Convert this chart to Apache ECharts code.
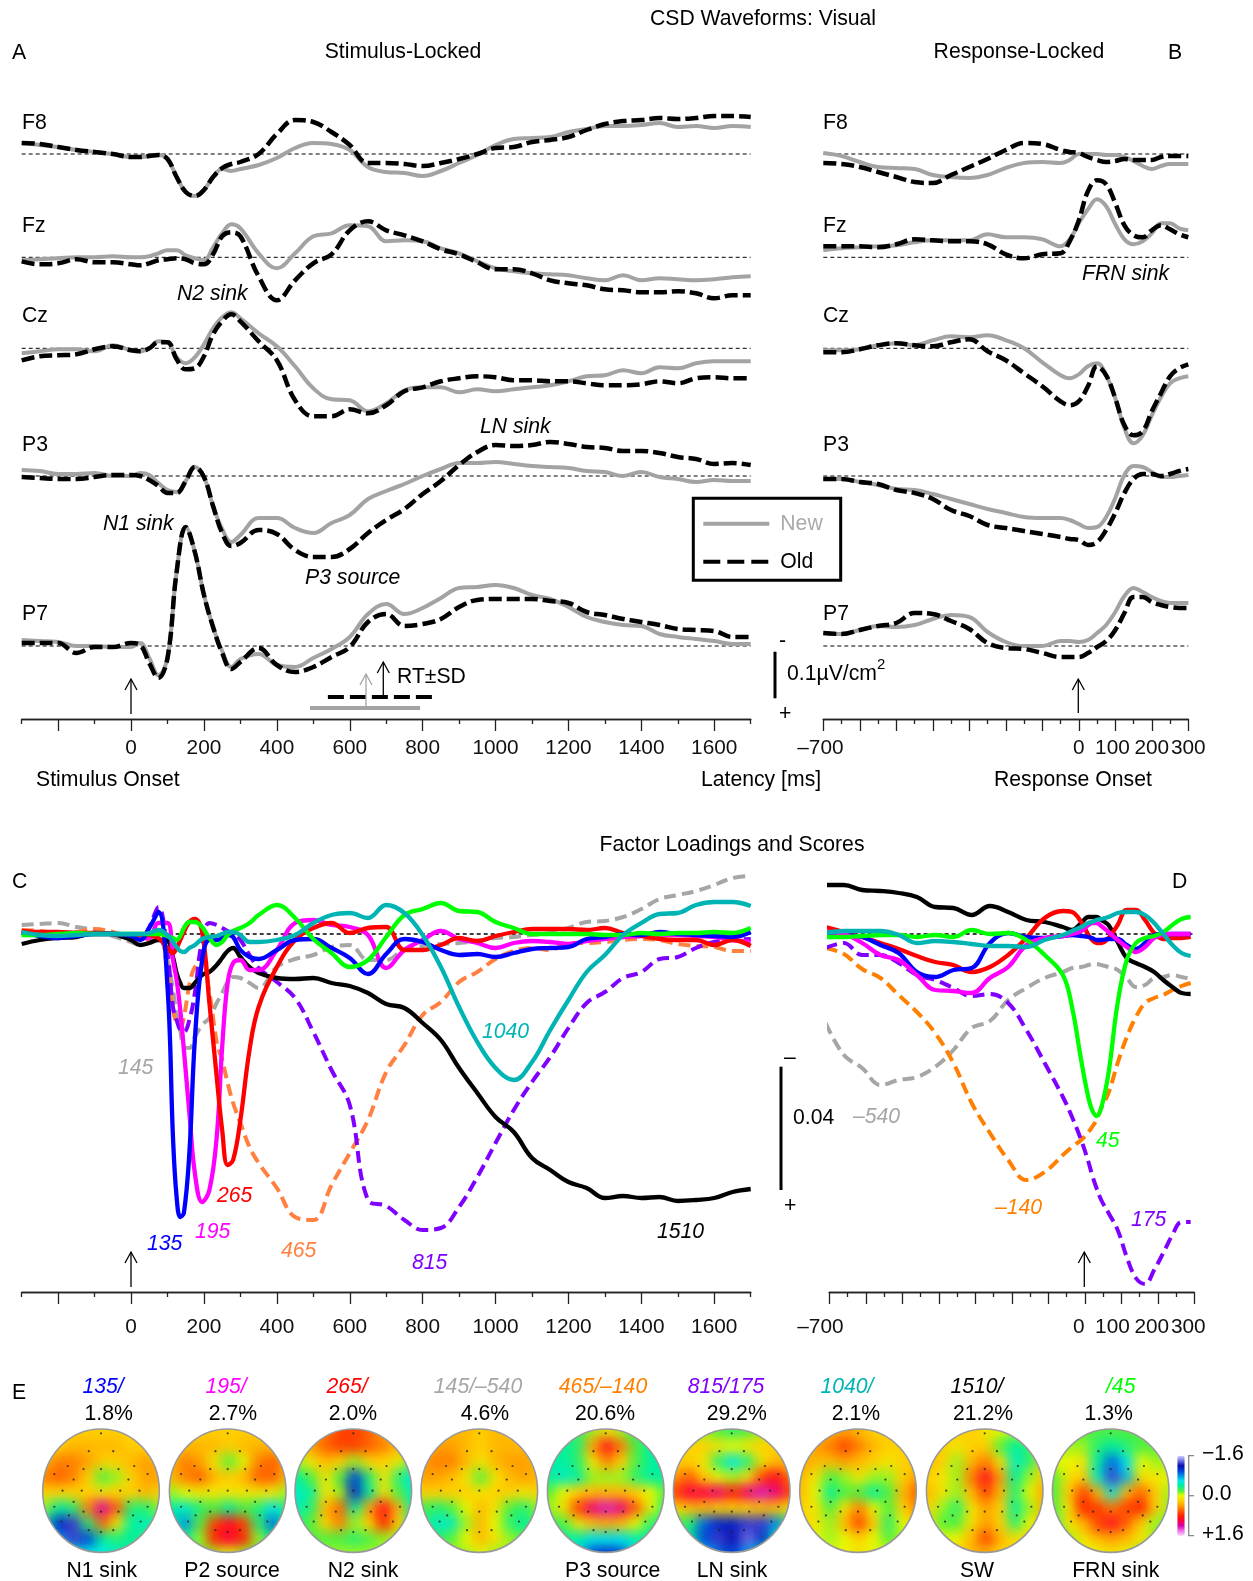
<!DOCTYPE html>
<html><head><meta charset="utf-8">
<style>html,body{margin:0;padding:0;background:#fff}#c{width:1253px;height:1581px}</style>
<script src="https://cdn.jsdelivr.net/npm/echarts@6/dist/echarts.min.js"></script>
</head><body><div id="c"></div>
<script>
// ---------- latency samples (ms) ----------
const latStim=[-300,-250,-200,-150,-100,-50,0,25,50,75,100,125,150,175,200,225,250,275,300,350,400,450,500,550,600,650,700,750,800,850,900,950,1000,1050,1100,1150,1200,1250,1300,1350,1400,1450,1500,1550,1600,1650,1700];
const latResp=[-700,-650,-600,-550,-500,-450,-400,-350,-300,-250,-200,-150,-100,-50,-25,0,25,50,75,100,125,150,175,200,225,250,275,300];
const latC=[-300,-250,-200,-150,-100,-50,0,25,50,75,100,115,125,135,145,160,175,195,215,235,250,265,280,300,325,350,400,450,500,550,600,650,700,750,800,850,900,950,1000,1050,1100,1150,1200,1250,1300,1350,1400,1450,1500,1550,1600,1650,1700];
const latD=[-710,-660,-610,-560,-510,-460,-410,-360,-310,-260,-210,-160,-110,-60,-35,-10,10,20,32,45,65,90,115,140,165,190,215,240,265,290];
// ---------- stimulus-locked CSD (1 unit = 1/47 of 0.1 uV/cm2, up = negative polarity) ----------
const sF8New=[11,9,7,4,2,0,-3,-3,-2,-1,-5,-23,-38,-42,-36,-23,-15,-17,-15,-11,-4,6,11,10,4,-13,-18,-19,-22,-17,-9,-1,9,15,16,17,22,25,28,28,29,31,27,28,26,28,27];
const sF8Old=[11,10,7,4,2,0,-3,-3,-2,-1,-5,-23,-38,-42,-36,-23,-14,-10,-8,0,20,34,32,22,9,-9,-9,-10,-12,-9,-5,0,6,7,12,14,17,24,30,33,34,36,35,36,38,38,37];
const sFzNew=[-3,-2,-1,0,0,1,0,0,1,4,7,7,2,-1,-3,10,24,33,29,4,-11,4,21,24,32,31,16,17,16,9,4,-4,-11,-14,-16,-17,-18,-21,-23,-18,-23,-21,-22,-23,-22,-20,-19];
const sFzOld=[-4,-7,-6,-2,-5,-5,-7,-8,-6,-3,-2,-1,-2,-6,-7,3,21,25,21,-19,-43,-23,-6,3,27,36,27,22,16,8,3,-5,-12,-12,-16,-23,-26,-28,-32,-33,-35,-35,-34,-36,-41,-38,-38];
const sCzNew=[-5,-3,-1,-1,-3,3,-2,-3,0,7,6,-9,-15,-9,4,20,31,36,30,15,2,-18,-40,-51,-52,-63,-55,-42,-39,-39,-44,-41,-43,-41,-39,-37,-33,-28,-27,-22,-25,-19,-20,-15,-13,-13,-13];
const sCzOld=[-12,-8,-7,-6,-1,2,-2,-3,0,6,6,-11,-21,-20,-8,14,27,34,27,7,-12,-52,-68,-68,-61,-65,-57,-43,-39,-33,-30,-28,-29,-32,-32,-33,-33,-35,-37,-37,-36,-33,-35,-30,-29,-30,-30];
const sP3New=[6,5,2,2,3,0,0,3,1,-7,-14,-16,-5,9,-1,-30,-53,-66,-59,-42,-42,-52,-57,-47,-39,-23,-15,-8,0,7,13,13,14,12,10,9,8,5,4,0,4,-1,-3,-6,-4,-5,-5];
const sP3Old=[-1,-2,-3,-3,-1,1,1,0,-4,-10,-17,-17,-5,9,-1,-30,-57,-70,-67,-54,-58,-74,-81,-81,-73,-57,-44,-33,-18,-5,11,24,31,30,31,34,32,29,28,25,25,23,19,17,12,13,11];
const sP7New=[6,5,4,0,0,-1,-1,3,-12,-29,-12,74,119,94,51,19,-5,-21,-13,-8,-19,-21,-12,-3,9,32,42,32,38,48,58,59,61,58,51,47,39,29,24,21,20,12,9,7,5,2,2];
const sP7Old=[3,3,3,-7,-1,-1,3,1,-17,-32,-12,74,119,94,51,19,-7,-23,-16,-2,-19,-26,-21,-11,-1,24,32,20,22,27,39,46,47,47,47,45,43,34,31,27,24,21,17,16,15,9,9];
// ---------- response-locked CSD ----------
const rF8New=[1,-2,-8,-13,-14,-15,-21,-23,-24,-21,-14,-9,-8,-9,-6,0,0,0,-1,-1,-3,-7,-12,-15,-12,-10,-10,-10];
const rF8Old=[-9,-10,-13,-18,-23,-28,-29,-21,-13,-5,4,11,10,4,2,1,-3,-6,-8,-7,-5,-6,-6,-6,-3,-2,-2,-2];
const rFzNew=[7,9,10,11,12,15,17,17,17,23,20,20,18,11,18,34,48,58,51,33,18,13,16,24,34,34,29,27];
const rFzOld=[11,11,11,10,13,18,17,16,16,13,3,-1,3,4,16,37,66,77,73,54,32,22,20,27,32,28,23,20];
const rCzNew=[-2,-2,-1,3,5,3,8,12,11,13,8,0,-14,-27,-30,-26,-18,-15,-27,-50,-80,-95,-87,-67,-49,-35,-30,-28];
const rCzOld=[-4,-4,-1,3,5,3,2,6,9,-3,-12,-25,-38,-53,-57,-53,-38,-18,-27,-50,-77,-87,-83,-63,-45,-28,-20,-16];
const rP3New=[-3,-3,-6,-9,-13,-14,-18,-23,-28,-33,-37,-41,-42,-42,-44,-48,-52,-51,-41,-22,1,10,9,4,-1,-1,0,1];
const rP3Old=[-3,-3,-6,-8,-14,-17,-23,-34,-40,-49,-52,-55,-58,-61,-63,-64,-69,-66,-54,-37,-17,-3,2,2,0,2,5,7];
const rP7New=[13,12,16,20,19,21,27,31,29,14,4,0,0,5,5,4,6,13,21,34,50,58,54,49,45,43,43,43];
const rP7Old=[13,12,16,20,23,33,32,25,17,3,-2,-3,-7,-11,-11,-11,-7,-1,5,16,33,49,49,44,41,39,38,38];
// ---------- factor loadings C (stimulus-locked) ----------
const cBlue=[1,-2,-4,-2,0,0,-2,-6,6,22,-53,-203,-263,-283,-279,-219,-106,-26,-6,-6,-4,-1,-3,-16,-23,-25,-16,-6,-5,-14,-24,-40,-20,-5,-8,-16,-21,-20,-23,-19,-15,-14,-13,-5,-3,0,-1,2,0,-1,-2,-3,2];
const cMagenta=[2,1,1,1,0,0,-1,-4,-4,11,11,-26,-46,-76,-116,-179,-239,-268,-256,-203,-113,-49,-29,-26,-36,-36,-16,11,14,9,7,-1,-34,-16,-6,3,-5,-9,-14,-9,-7,-8,-10,-7,-5,-3,-2,-1,-1,-2,-3,-6,-8];
const cRed=[3,2,2,1,1,0,-1,-1,-1,-4,-14,-19,-14,-6,2,12,15,2,-69,-143,-196,-231,-226,-186,-116,-73,-33,-6,6,11,1,6,7,-16,-16,-11,-4,-7,-2,2,5,5,5,4,6,1,-2,-5,-6,-6,-11,-6,-12];
const cGray=[9,10,11,7,4,-2,-8,-11,-9,-5,-26,-56,-79,-96,-113,-114,-103,-91,-84,-69,-59,-48,-43,-44,-49,-54,-33,-25,-21,-13,-11,-26,-26,-15,-12,-10,-9,-7,-4,-3,-1,1,6,12,13,17,25,35,39,43,49,56,58];
const cOrange=[4,3,1,2,5,2,-4,-6,-5,-1,-36,-76,-89,-93,-83,-51,-33,-29,-59,-108,-126,-149,-169,-189,-213,-229,-254,-283,-286,-251,-219,-186,-138,-111,-81,-68,-48,-38,-25,-17,-14,-16,-9,-9,-8,-6,-5,-6,-10,-12,-13,-17,-17];
const cPurple=[1,1,1,0,0,0,-1,-4,7,27,-19,-73,-86,-96,-98,-86,-59,-6,11,9,6,3,0,-6,-21,-34,-48,-64,-98,-136,-171,-266,-272,-286,-296,-294,-273,-243,-209,-176,-148,-123,-94,-69,-58,-44,-38,-25,-23,-14,-8,-6,-5];
const cBlack=[-10,-6,-4,-3,1,0,-6,-11,-9,-6,-7,-23,-39,-49,-54,-54,-49,-41,-38,-31,-24,-17,-14,-23,-33,-39,-44,-45,-44,-49,-52,-59,-70,-74,-89,-106,-134,-159,-183,-198,-224,-236,-248,-254,-264,-262,-264,-263,-267,-266,-264,-258,-255];
const cGreen=[-1,-1,0,1,0,0,0,0,0,0,-2,-4,-6,-2,6,12,12,7,-4,-11,-8,-1,3,6,11,19,29,16,-5,-19,-33,-26,-3,19,25,31,23,22,12,6,0,0,0,0,-1,-1,1,0,1,1,2,1,6];
const cCyan=[2,-1,-2,-1,0,0,0,0,1,4,-1,-8,-13,-17,-18,-14,-11,-5,-3,-2,0,2,2,-1,-8,-8,-6,-1,11,19,21,16,29,21,-1,-33,-73,-108,-134,-146,-128,-96,-66,-38,-21,-1,11,20,21,29,32,32,28];
// ---------- factor loadings D (response-locked) ----------
const dBlack=[49,49,44,43,41,37,27,26,19,28,22,14,12,7,4,11,17,17,17,14,9,-8,-24,-29,-33,-38,-46,-53,-59,-60];
const dRed=[7,2,-3,-9,-15,-22,-28,-31,-38,-33,-21,-4,16,23,22,12,-1,-6,-9,-9,-4,9,24,24,14,1,-5,-4,-4,-3];
const dBlue=[0,-1,-3,-11,-19,-38,-43,-36,-34,-9,1,-3,-4,-2,-1,-2,-3,-4,-6,-6,-5,-5,-11,-15,-9,-1,0,0,0,0];
const dMagenta=[2,0,-9,-21,-26,-41,-56,-57,-59,-44,-33,-11,-4,-2,0,3,9,11,11,8,2,-6,-13,-18,-13,-4,-1,0,0,0];
const dGreen=[-3,-3,-2,-1,-1,-3,-1,-3,4,0,1,-6,-21,-41,-73,-126,-164,-176,-182,-174,-139,-69,-26,-9,-4,-2,2,9,15,17];
const dCyan=[1,3,3,3,-1,-9,-7,-8,-10,-12,-12,-13,-6,-1,3,7,11,12,14,15,17,21,22,22,19,11,0,-11,-19,-22];
const dGray=[-89,-121,-134,-151,-146,-143,-133,-116,-94,-87,-66,-54,-44,-38,-34,-33,-31,-30,-30,-31,-33,-36,-44,-53,-51,-44,-43,-41,-43,-45];
const dOrange=[-14,-20,-35,-44,-61,-78,-99,-129,-169,-199,-226,-246,-238,-221,-213,-206,-198,-193,-186,-174,-159,-129,-103,-83,-69,-64,-61,-56,-52,-49];
const dPurple=[-14,-9,-21,-21,-29,-41,-46,-54,-62,-60,-69,-96,-129,-163,-183,-206,-228,-241,-254,-266,-279,-296,-323,-344,-350,-336,-319,-301,-288,-288];
// ---------- RT +/- SD ----------
const rtOld=[540,834], rtNew=[491,793];
// ---------- scalp maps E: 9 x 9 samples, top row first ----------
const topoN1=[[.2,.2,.2,.2,.2,.2,.2,.2,.2],[.1,.2,.3,.3,.3,.3,.2,.2,.1],[.3,.5,.5,.4,.2,.2,.3,.4,.3],[.5,.6,.5,.2,-.2,-.1,.2,.4,.4],[.2,.2,.2,.2,.1,.2,.2,.3,.2],[-.1,-.4,-.3,.5,1.2,.6,-.3,-.3,-.1],[-.5,-1.1,-1.3,-.3,.6,.1,-.4,-.5,-.3],[-.5,-.8,-1.3,-1,-.4,-.3,-.4,-.3,-.3],[-.5,-.5,-.5,-.6,-.6,-.5,-.4,-.3,-.3]];
const topoP2=[[.2,.2,.2,.2,.2,.2,.2,.2,.2],[.2,.3,.3,.3,.2,.3,.3,.3,.2],[.3,.5,.4,.1,-.2,0,.5,.6,.4],[.3,.5,.6,.3,.2,.3,.6,.6,.3],[-.1,0,.1,.1,.1,.1,.1,.1,-.1],[-.4,-.5,-.3,-.2,-.4,-.2,-.3,-.6,-.3],[-.4,-.8,-.2,.7,.9,.7,-.3,-.9,-.4],[-.3,-.4,-.1,.8,1,.8,-.1,-.4,-.3],[-.2,-.2,-.2,-.1,0,-.1,-.2,-.2,-.2]];
const topoN2=[[.4,.4,.5,.7,.7,.6,.4,.3,.2],[.2,.4,.6,.7,.7,.6,.5,.3,.1],[-.1,.1,.3,.2,-.1,.2,.2,.1,-.2],[-.4,-.2,.1,-.2,-1,-.3,.1,-.3,-.6],[-.5,-.4,.1,-.1,-1.1,-.4,.1,-.2,-.5],[-.5,-.3,.3,.6,-.4,.4,.9,.3,-.4],[-.3,-.2,.2,.5,-.1,.2,.8,.2,-.3],[-.2,-.2,-.2,-.2,-.3,-.2,-.1,-.1,-.2],[-.2,-.2,-.1,-.1,-.1,-.1,-.1,-.2,-.2]];
const topo145=[[.2,.3,.3,.3,.2,.3,.3,.3,.2],[.3,.4,.4,.3,.2,.3,.3,.3,.3],[.4,.5,.5,.3,.1,.3,.4,.4,.3],[.4,.4,.3,.1,-.2,.1,.3,.4,.3],[.2,.2,.2,.2,.1,.2,.2,.1,.2],[-.2,-.3,-.2,0,.3,.1,-.2,-.3,-.1],[-.3,-.5,-.5,-.1,.3,0,-.3,-.4,-.2],[-.3,-.3,-.2,0,.3,.1,-.1,-.2,-.2],[-.2,-.2,-.1,-.1,0,-.1,-.1,-.2,-.2]];
const topoP3=[[-.3,-.3,-.3,-.1,.1,-.1,-.3,-.3,-.3],[-.4,-.4,-.3,.4,.9,.5,-.2,-.4,-.4],[-.4,-.4,-.3,.1,.5,.2,-.2,-.4,-.4],[-.4,-.5,-.4,-.1,-.1,-.1,-.3,-.4,-.4],[-.2,0,.2,.3,.3,.3,.2,0,-.2],[-.1,.1,.7,1.1,1.25,1.1,.6,0,-.3],[-.3,-.2,.1,.3,.4,.3,0,-.3,-.3],[-.4,-.4,-.4,-.6,-.6,-.6,-.4,-.4,-.4],[-.4,-.5,-.6,-1,-1.1,-1,-.6,-.5,-.4]];
const topoLN=[[0,-.1,-.1,-.2,-.3,-.2,-.1,0,0],[.1,.2,.2,.1,0,.1,.2,.2,.1],[.2,.2,.1,-.3,-.6,-.3,.1,.3,.3],[.4,.6,.2,0,-.1,.1,.7,.9,.5],[.7,1,1,1.1,.8,1.1,1.25,1.1,.7],[.2,.3,.3,.2,.2,.2,.3,.3,.1],[-.2,-.3,-.9,-1.1,-1.1,-1.3,-1.3,-.8,-.3],[-.3,-.4,-1,-1.3,-1.2,-1.4,-1.1,-.5,-.3],[-.3,-.4,-.6,-.9,-1,-.8,-.5,-.4,-.3]];
const topo1040=[[.2,.3,.3,.4,.3,.2,.2,.2,.2],[.3,.4,.5,.7,.5,.3,.2,.2,.2],[.4,.3,.3,.4,.3,.2,.1,.2,.2],[.3,.1,-.2,-.1,.1,-.1,-.1,.2,.4],[.3,0,-.4,-.2,-.2,-.4,-.2,.3,.6],[.2,.1,-.2,.1,.5,0,-.2,.2,.5],[.2,.1,-.1,.3,.7,.2,-.3,0,.2],[.1,0,-.1,0,.2,0,-.2,-.1,.1],[0,0,0,0,.1,0,0,0,0]];
const topoSW=[[.2,.2,.2,.2,.1,0,-.1,0,.1],[.3,.2,.1,.2,.2,-.2,-.4,-.3,.1],[.3,.2,-.1,.3,.5,.1,-.5,-.3,.2],[.2,.1,-.1,.5,.9,.4,-.4,-.1,.2],[.3,.1,-.1,.3,.7,.3,-.3,0,.4],[.2,-.1,-.3,.1,.4,.2,-.4,-.1,.3],[.1,-.2,-.2,.1,.4,.2,-.3,0,.3],[.1,0,0,.3,.7,.3,.1,.2,.2],[.2,.2,.2,.3,.3,.2,.2,.2,.2]];
const topoFRN=[[-.1,-.2,-.2,-.2,-.2,-.2,-.2,-.2,-.1],[-.1,-.1,-.1,-.3,-.4,-.3,-.2,-.2,-.1],[0,0,.1,-.4,-.9,-.6,0,-.1,-.1],[-.2,.1,.2,-.5,-1.3,-.7,.1,.1,0],[-.2,.2,.7,.3,-.6,.3,.6,.2,-.1],[-.2,.1,.8,.7,.5,.7,.8,.2,-.1],[-.3,.1,.3,.7,.9,.6,.2,-.1,-.2],[-.2,-.1,.1,.3,.4,.3,.1,-.1,-.2],[-.1,-.1,0,0,.1,0,-.1,-.1,-.1]];
const electrodes=[[0,-.93],[-.21,-.64],[.21,-.64],[-.57,-.4],[-.3,-.35],[0,-.35],[.3,-.35],[.57,-.4],[-.8,-.27],[-.47,-.18],[.47,-.18],[.8,-.27],[-.66,0],[-.33,0],[0,0],[.33,0],[.66,0],[-.8,.26],[-.47,.18],[.47,.18],[.8,.26],[-.3,.34],[0,.34],[.3,.34],[-.68,.5],[-.55,.4],[.55,.4],[.68,.5],[-.21,.64],[0,.67],[.21,.64]];
const paletteStops=['#d0d0ff','#7070e8','#0a0ab0','#0040d8','#0090e8','#00e8e8','#00f0a0','#50f040','#e8f800','#ffd000','#ffa000','#ff6000','#ff2000','#ff0040','#d800b0','#f070e8','#ffd0ff'];
const stimTickLong=[-200,0,200,400,600,800,1000,1200,1400,1600];
const stimTickShort=[-300,-100,100,300,500,700,900,1100,1300,1500,1700];
const stimLabels=[0,200,400,600,800,1000,1200,1400,1600];
const respTickLong=[-700,-600,-500,-400,-300,-200,-100,0,100,200,300];
const respTickShort=[-650,-550,-450,-350,-250,-150,-50,50,150,250];
const respLabels=[-700,0,100,200,300];

const FONT='"Liberation Sans",Arial,sans-serif', FS=21.2, TICKFS=20.8;
const GRAY='#a3a3a3';
const grids=[],xAxes=[],yAxes=[],series=[],g=[];
const SMOOTH=0.4;
function addGrid(l,t,w,h,x0,x1,y0,y1){
  const i=grids.length;
  grids.push({left:l,top:t,width:w,height:h,show:false});
  xAxes.push({type:'value',gridIndex:i,min:x0,max:x1,show:false});
  yAxes.push({type:'value',gridIndex:i,min:y0,max:y1,show:false});
  return i;
}
function zip(name,xs,ys){
  if(xs.length!==ys.length) throw new Error('length '+name+' '+xs.length+' vs '+ys.length);
  return xs.map((t,i)=>[t,ys[i]]);
}
function line(name,gi,xs,ys,color,width,dash){
  series.push({type:'line',name,xAxisIndex:gi,yAxisIndex:gi,data:zip(name,xs,ys),symbol:'none',smooth:SMOOTH,clip:false,silent:true,
    lineStyle:{color,width,type:dash?dash:'solid',cap:'butt',join:'round'},itemStyle:{color},z:3});
}
function base(gi,x0,x1,w,dash){
  series.push({type:'line',xAxisIndex:gi,yAxisIndex:gi,data:[[x0,0],[x1,0]],symbol:'none',silent:true,clip:false,
    lineStyle:{color:'#000',width:w,type:dash},z:2});
}
function txt(t,x,y,o){o=o||{};
  g.push({type:'text',x,y:y+1,z:50,silent:true,style:{text:t,font:(o.italic?'italic ':'')+(o.size||FS)+'px '+FONT,fill:o.color||'#000',align:o.align||'left',verticalAlign:'middle'}});
}
function seg(pts,color,w,z){g.push({type:'polyline',z:z||50,silent:true,shape:{points:pts},style:{stroke:color,lineWidth:w,fill:null}});}
function arrow(x,y0,y1,color){seg([[x,y0],[x,y1]],color,1.3);seg([[x-6,y1+11],[x,y1],[x+6,y1+11]],color,1.3);}

// ---------- A and B panels ----------
const Ax=[21.7,729], Bx=[823.3,365];
const chanA=[[154,sF8New,sF8Old],[257.3,sFzNew,sFzOld],[348.3,sCzNew,sCzOld],[476,sP3New,sP3Old],[646,sP7New,sP7Old]];
const chanB=[[154,rF8New,rF8Old],[257.3,rFzNew,rFzOld],[348.3,rCzNew,rCzOld],[476,rP3New,rP3Old],[646,rP7New,rP7Old]];
let p7Grid;
chanA.forEach(c=>{const gi=addGrid(Ax[0],c[0]-150,Ax[1],300,-300,1700,-150,150);p7Grid=gi;
  base(gi,-300,1700,1,[4,3]);line('New',gi,latStim,c[1],GRAY,4);line('Old',gi,latStim,c[2],'#000',4.5,[13,5]);});
chanB.forEach(c=>{const gi=addGrid(Bx[0],c[0]-150,Bx[1],300,-700,300,-150,150);
  base(gi,-700,300,1,[4,3]);line('New',gi,latResp,c[1],GRAY,4);line('Old',gi,latResp,c[2],'#000',4.5,[13,5]);});
// RT bars, on the P7 grid
series.push({type:'line',xAxisIndex:p7Grid,yAxisIndex:p7Grid,data:[[rtOld[0],-51],[rtOld[1],-51]],symbol:'none',silent:true,lineStyle:{color:'#000',width:4,type:[16,6]},z:3,clip:false});
series.push({type:'line',xAxisIndex:p7Grid,yAxisIndex:p7Grid,data:[[rtNew[0],-62],[rtNew[1],-62]],symbol:'none',silent:true,lineStyle:{color:GRAY,width:4},z:3,clip:false});

// ---------- axes ----------
const NB='\u00a0';
const labelFmt=v=>v<0?String(v).replace('-','\u2013')+NB:v===100?'100'+NB:String(v);
function labelStyle(labels,margin){return {show:true,customValues:labels,margin,fontSize:TICKFS,fontFamily:'Liberation Sans',color:'#111',hideOverlap:false,showMinLabel:true,showMaxLabel:true,formatter:labelFmt};}
function axisPair(l,w,y,x0,x1,longT,shortT,labels,margin){
  const i=grids.length;
  grids.push({left:l,top:y-1,width:w,height:1,show:false});
  yAxes.push({type:'value',gridIndex:i,min:0,max:1,show:false});
  yAxes.push({type:'value',gridIndex:i,min:0,max:1,show:false});
  const ln={show:true,onZero:false,lineStyle:{color:'#222',width:1.3}};
  xAxes.push({type:'value',gridIndex:i,position:'bottom',min:x0,max:x1,axisLine:ln,splitLine:{show:false},
    axisTick:{show:true,length:5,lineStyle:{color:'#222',width:1.3},customValues:shortT},axisLabel:{show:false}});
  xAxes.push({type:'value',gridIndex:i,position:'bottom',min:x0,max:x1,axisLine:ln,splitLine:{show:false},
    axisTick:{show:true,length:12,lineStyle:{color:'#222',width:1.3},customValues:longT},
    axisLabel:labels?labelStyle(labels,margin):{show:false}});
}
function labelsOnly(l,w,y,x0,x1,labels,margin){
  const i=grids.length;
  grids.push({left:l,top:y-1,width:w,height:1,show:false});
  yAxes.push({type:'value',gridIndex:i,min:0,max:1,show:false});
  xAxes.push({type:'value',gridIndex:i,position:'bottom',min:x0,max:x1,axisLine:{show:false,onZero:false},axisTick:{show:false},splitLine:{show:false},axisLabel:labelStyle(labels,margin)});
}
axisPair(Ax[0],Ax[1],719,-300,1700,stimTickLong,stimTickShort,stimLabels,19);
axisPair(Bx[0],Bx[1],719,-700,300,respTickLong,respTickShort,respLabels,19);

// ---------- C and D panels ----------
(()=>{const i=grids.length;grids.push({left:Ax[0],top:534,width:Ax[1],height:800,show:false});xAxes.push({type:'value',gridIndex:i,min:-300,max:1700,show:false});yAxes.push({type:'value',gridIndex:i,min:-400,max:400,show:false});})();
const xyC=xAxes.length-1;
function lineXY(name,xs,ys,color,dash,xi){
  series.push({type:'line',name,xAxisIndex:xi,yAxisIndex:xi,data:zip(name,xs,ys),symbol:'none',smooth:SMOOTH,clip:false,silent:true,
    lineStyle:{color,width:dash?4:4.3,type:dash?dash:'solid',cap:'butt',join:'round'},z:3});
}
const D5=[12,6];
series.push({type:'line',xAxisIndex:xyC,yAxisIndex:xyC,data:[[-300,0],[1700,0]],symbol:'none',silent:true,clip:false,lineStyle:{color:'#000',width:1.6,type:[4,3]},z:2});
lineXY('c145',latC,cGray,'#a6a6a6',D5,xyC);
lineXY('c465',latC,cOrange,'#ff8040',D5,xyC);
lineXY('c815',latC,cPurple,'#7f00ff',D5,xyC);
lineXY('c1510',latC,cBlack,'#000',0,xyC);
lineXY('c195',latC,cMagenta,'#ff00ff',0,xyC);
lineXY('c265',latC,cRed,'#ff0000',0,xyC);
lineXY('c135',latC,cBlue,'#0000ff',0,xyC);
lineXY('c45',latC,cGreen,'#00ff00',0,xyC);
lineXY('c1040',latC,cCyan,'#00b4b4',0,xyC);

(()=>{const i=grids.length;grids.push({left:829.3,top:534,width:365,height:800,show:false});xAxes.push({type:'value',gridIndex:i,min:-700,max:300,show:false});yAxes.push({type:'value',gridIndex:i,min:-400,max:400,show:false});})();
const xyD=xAxes.length-1;
series.push({type:'line',xAxisIndex:xyD,yAxisIndex:xyD,data:[[-710,0],[295,0]],symbol:'none',silent:true,clip:false,lineStyle:{color:'#000',width:1.6,type:[4,3]},z:2});
lineXY('d-540',latD,dGray,'#a6a6a6',D5,xyD);
lineXY('d-140',latD,dOrange,'#ff8000',D5,xyD);
lineXY('d175',latD,dPurple,'#7f00ff',D5,xyD);
lineXY('d1510',latD,dBlack,'#000',0,xyD);
lineXY('d265',latD,dRed,'#ff0000',0,xyD);
lineXY('d135',latD,dBlue,'#0000ff',0,xyD);
lineXY('d195',latD,dMagenta,'#ff00ff',0,xyD);
lineXY('d45',latD,dGreen,'#00ff00',0,xyD);
lineXY('d1040',latD,dCyan,'#00b4b4',0,xyD);

axisPair(Ax[0],Ax[1],1292,-300,1700,stimTickLong,stimTickShort,stimLabels,24.5);
axisPair(829.3,365,1292,-700,300,respTickLong,respTickShort,null,0);
labelsOnly(Bx[0],Bx[1],1292,-700,300,respLabels,24.5);

// ---------- scalp maps ----------
const maps=[[topoN1,101],[topoP2,227.7],[topoN2,353.3],[topo145,479.3],[topoP3,605.7],[topoLN,731.7],[topo1040,858],[topoSW,984.7],[topoFRN,1110.7]];
const CY=1490.7,RX=58.3,RY=61.7;
const topoIdx=[];
maps.forEach(m=>{
  const M=m[0],cx=m[1];
  const i=grids.length;
  grids.push({left:cx-RX,top:CY-RY,width:2*RX,height:2*RY,show:false});
  xAxes.push({type:'value',gridIndex:i,min:-1,max:1,show:false});
  yAxes.push({type:'value',gridIndex:i,min:-1,max:1,show:false});
  const xi=xAxes.length-1;
  const cells=[];
  M.forEach((row,r)=>row.forEach((v,c)=>cells.push([-1+c*.25,1-r*.25,v])));
  // each sample is painted in three passes: opaque cell, then soft blobs forward and backward
  const data=[...cells.map(d=>[...d,0]),...cells.map(d=>[...d,1]),...cells.slice().reverse().map(d=>[...d,2])];
  topoIdx.push(series.length);
  const clip={type:'ellipse',shape:{cx,cy:CY,rx:RX,ry:RY}};
  series.push({type:'custom',xAxisIndex:xi,yAxisIndex:xi,silent:true,z:4,data,encode:{x:0,y:1},
    renderItem(params,api){
      const p=api.coord([api.value(0),api.value(1)]);
      const col=api.visual('color');
      if(api.value(3)===0) return {type:'rect',shape:{x:p[0]-7.5,y:p[1]-8,width:15,height:16},clipPath:clip,style:{fill:col}};
      return {type:'circle',shape:{cx:p[0],cy:p[1],r:21},clipPath:clip,
        style:{fill:{type:'radial',x:.5,y:.5,r:.5,colorStops:[{offset:0,color:echarts.color.modifyAlpha(col,.72)},{offset:.4,color:echarts.color.modifyAlpha(col,.4)},{offset:.75,color:echarts.color.modifyAlpha(col,.1)},{offset:1,color:echarts.color.modifyAlpha(col,0)}]}}};
    }});
  series.push({type:'scatter',xAxisIndex:xi,yAxisIndex:xi,silent:true,z:5,symbolSize:2.2,itemStyle:{color:'#222'},data:electrodes.map(e=>[e[0],-e[1]])});
  g.push({type:'ellipse',z:20,silent:true,shape:{cx,cy:CY,rx:RX,ry:RY},style:{fill:null,stroke:'#999',lineWidth:1.6}});
});

// ---------- text ----------
txt('CSD Waveforms: Visual',763,18.5,{align:'center'});
txt('A',12,52);txt('Stimulus-Locked',403,51,{align:'center'});
txt('Response-Locked',1019,51,{align:'center'});txt('B',1168,52);
[['F8',121.7],['Fz',225],['Cz',315],['P3',444],['P7',613]].forEach(a=>{txt(a[0],22,a[1]);txt(a[0],823,a[1]);});
[['N2 sink',177,293],['LN sink',480,426],['N1 sink',103,523],['P3 source',305,577],['FRN sink',1082,273]].forEach(a=>txt(a[0],a[1],a[2],{italic:true}));
txt('RT\u00b1SD',397,676);
txt('Stimulus Onset',36,779);txt('Latency [ms]',701,779);txt('Response Onset',994,779);
txt('-',779,640);txt('+',779,713);
txt('0.1\u00b5V/cm',787,673);txt('2',877,664,{size:15});
txt('Factor Loadings and Scores',732,844,{align:'center'});
txt('C',12,881);txt('D',1172,881);
txt('\u2013',784,1057);txt('+',784,1205);txt('0.04',793,1117);
[['145',118,1067,'#a6a6a6'],['135',147,1243,'#0000ff'],['195',195,1231,'#ff00ff'],['265',217,1195,'#ff0000'],['465',281,1250,'#ff8040'],['815',412,1262,'#7f00ff'],['1040',482,1031,'#00b4b4'],['1510',657,1231,'#000'],['\u2013540',853,1116,'#a6a6a6'],['\u2013140',995,1207,'#ff8000'],['45',1096,1140,'#00ff00'],['175',1131,1219,'#7f00ff']].forEach(a=>txt(a[0],a[1],a[2],{italic:true,color:a[3]}));
txt('E',12,1392);
[['135/',103,'#0000ff'],['195/',226,'#ff00ff'],['265/',347,'#ff0000'],['145/\u2013540',478,'#a6a6a6'],['465/\u2013140',603,'#ff8000'],['815/175',726,'#7f00ff'],['1040/',847,'#00b4b4'],['1510/',977,'#000'],['/45',1120.7,'#00ff00']].forEach(a=>txt(a[0],a[1],1385.7,{italic:true,color:a[2],align:'center'}));
[['1.8%',108.7],['2.7%',233],['2.0%',353],['4.6%',485],['20.6%',605],['29.2%',736.7],['2.1%',856],['21.2%',983],['1.3%',1108.7]].forEach(a=>txt(a[0],a[1],1413,{align:'center'}));
[['N1 sink',101.7],['P2 source',232],['N2 sink',363],['P3 source',612.7],['LN sink',732],['SW',977],['FRN sink',1115.7]].forEach(a=>txt(a[0],a[1],1570,{align:'center'}));
txt('\u22121.6',1202,1453);txt('0.0',1202,1493);txt('+1.6',1202,1533);

// ---------- scale bars, arrows, colour bar bracket ----------
seg([[775,651.7],[775,698.3]],'#000',3);
seg([[781,1066.7],[781,1190]],'#000',3);
arrow(131,714,679,'#000');arrow(366,707,674,GRAY);arrow(383.3,697,662,'#000');arrow(1078.3,713,679,'#000');
arrow(131,1287,1252,'#000');arrow(1084.3,1287,1252,'#000');
seg([[1194,1455.7],[1188.7,1455.7],[1188.7,1535.7],[1194,1535.7]],'#888',1.3);
seg([[1188.7,1495.7],[1194,1495.7]],'#888',1.3);

const chart=echarts.init(document.getElementById('c'),null,{renderer:'canvas'});
chart.setOption({
  animation:false,backgroundColor:'#fff',
  grid:grids,xAxis:xAxes,yAxis:yAxes,series,graphic:{elements:g},
  legend:{show:true,left:693.3,top:498.3,orient:'vertical',selectedMode:false,itemWidth:66,itemHeight:14,itemGap:17,padding:[15,18,8,8],
    borderColor:'#000',borderWidth:3,backgroundColor:'#fff',
    itemStyle:{opacity:0,color:'transparent',borderColor:'transparent'},lineStyle:{width:4},
    textStyle:{fontSize:FS,fontFamily:'Liberation Sans',color:'#000',padding:[0,0,0,6]},
    data:[{name:'New',textStyle:{color:'#aaa'}},{name:'Old',lineStyle:{width:4,type:[17,7]}}]},
  visualMap:{type:'continuous',seriesIndex:topoIdx,dimension:2,min:-1.6,max:1.6,inverse:true,calculable:false,hoverLink:false,realtime:false,
    left:1177.3,top:1455.7,itemWidth:7.4,itemHeight:80,padding:0,text:null,showLabel:false,inRange:{color:paletteStops}}
});
</script></body></html>
